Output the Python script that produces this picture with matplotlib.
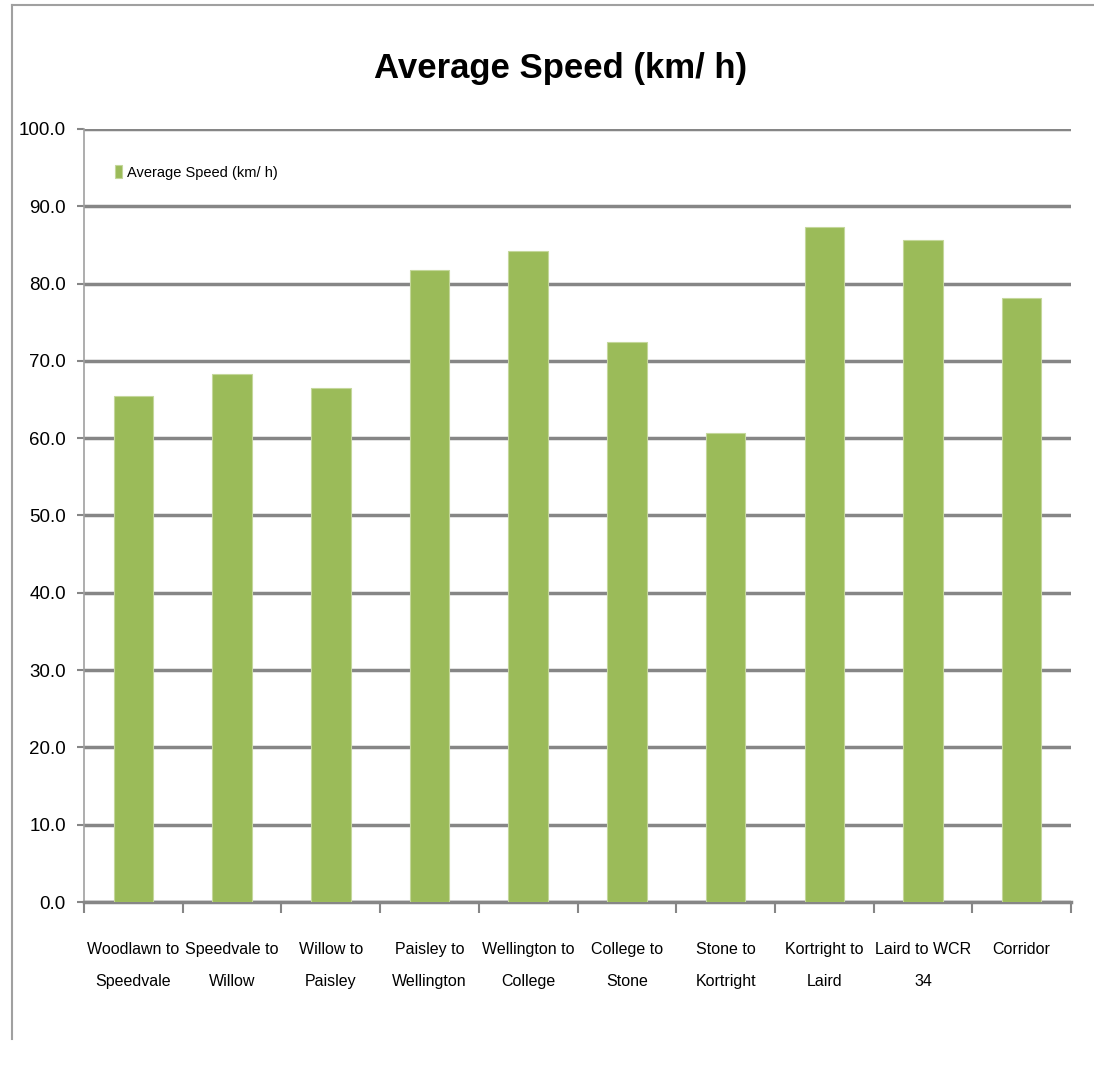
# Average Speed bar chart
import matplotlib
matplotlib.use("Agg")
import matplotlib.pyplot as plt
from matplotlib.lines import Line2D

# Data
segments = [
    "Woodlawn to\nSpeedvale",
    "Speedvale to\nWillow",
    "Willow to\nPaisley",
    "Paisley to\nWellington",
    "Wellington to\nCollege",
    "College to\nStone",
    "Stone to\nKortright",
    "Kortright to\nLaird",
    "Laird to WCR\n34",
    "Corridor",
]
avg_speed = [65.4, 68.3, 66.5, 81.7, 84.2, 72.4, 60.7, 87.3, 85.6, 78.1]
y_ticks = [0, 10, 20, 30, 40, 50, 60, 70, 80, 90, 100]

plt.rcParams["font.family"] = ["Liberation Sans Narrow", "Liberation Sans", "DejaVu Sans"]

bar_color = "#9BBB59"
grid_color = "#868686"

fig = plt.figure(figsize=(10.94, 10.65), dpi=100)
ax = fig.add_axes([0.0768, 0.153, 0.9022, 0.726])

x = list(range(len(segments)))
ax.bar(x, avg_speed, width=0.4, color=bar_color, edgecolor="#C4D79B",
       linewidth=0.8, label="Average Speed (km/ h)", zorder=3)

ax.set_xlim(-0.5, len(segments) - 0.5)
ax.set_ylim(0, 100)
ax.set_yticks(y_ticks)
ax.set_yticklabels([f"{v:.1f}" for v in y_ticks], fontsize=13.5)
ax.yaxis.grid(True, color=grid_color, linewidth=2.5, zorder=0)

# category labels centred under bars, ticks on boundaries
ax.set_xticks(x)
ax.set_xticklabels(segments, fontsize=11.5, linespacing=2.4)
ax.tick_params(axis="x", length=0, pad=29)
ax.set_xticks([i - 0.5 for i in range(len(segments) + 1)], minor=True)
ax.tick_params(axis="x", which="minor", length=8, width=1.5, color=grid_color)
ax.tick_params(axis="y", length=5, width=1.5, color=grid_color, pad=8)

for side in ["top", "right"]:
    ax.spines[side].set_visible(False)
ax.spines["left"].set_color("#A0A0A0")
ax.spines["left"].set_linewidth(1.2)
ax.spines["bottom"].set_color(grid_color)
ax.spines["bottom"].set_linewidth(2.5)

ax.legend(loc="upper left", bbox_to_anchor=(0.018, 0.97), frameon=False,
          fontsize=10.5, handlelength=0.5, handleheight=1.0, handletextpad=0.3)

fig.text(0.512, 0.936, "Average Speed (km/ h)", fontsize=25, fontweight="bold",
         ha="center", va="center")

# outer chart border (partially cropped)
fig.add_artist(Line2D([0.011, 0.011], [0.024, 0.995], color="#A0A0A0", linewidth=1.5))
fig.add_artist(Line2D([0.011, 1.0], [0.995, 0.995], color="#A0A0A0", linewidth=1.5))

plt.savefig("out.png", dpi=100)
